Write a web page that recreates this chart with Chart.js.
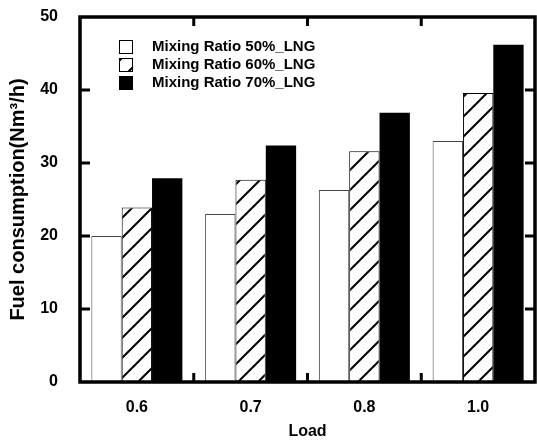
<!DOCTYPE html>
<html><head><meta charset="utf-8">
<script src="https://cdn.jsdelivr.net/npm/chart.js@4"></script>
<style>html,body{margin:0;padding:0;background:#fff;overflow:hidden}#wrap{width:537px;height:441px}canvas{display:block}</style>
</head><body><div id="wrap"><canvas id="c" width="537" height="441"></canvas></div>
<script>
const categories = ['0.6', '0.7', '0.8', '1.0'];
const ratio50 = [20.0, 23.0, 26.3, 33.0];
const ratio60 = [23.9, 27.7, 31.6, 39.6];
const ratio70 = [27.9, 32.4, 36.9, 46.2];
const seriesLabels = ['Mixing Ratio 50%_LNG', 'Mixing Ratio 60%_LNG', 'Mixing Ratio 70%_LNG'];
const yMin = 0, yMax = 50, yStep = 10;

const FONT = "'Liberation Sans', Arial, sans-serif";

function makeHatch() {
  const p = document.createElement('canvas');
  p.width = 20; p.height = 20;
  const g = p.getContext('2d');
  g.fillStyle = '#fff'; g.fillRect(0, 0, 20, 20);
  g.strokeStyle = '#000'; g.lineWidth = 2;
  g.beginPath();
  g.moveTo(-5, 25); g.lineTo(25, -5);
  g.moveTo(-5, 5); g.lineTo(5, -5);
  g.moveTo(15, 25); g.lineTo(25, 15);
  g.stroke();
  return document.getElementById('c').getContext('2d').createPattern(p, 'repeat');
}
const hatch = makeHatch();

function noPad(s) { s.paddingLeft = 0; s.paddingRight = 0; s.paddingTop = 0; s.paddingBottom = 0; }

const framePlugin = {
  id: 'frame',
  afterDatasetsDraw(chart) {
    const {ctx, chartArea: a, scales: {x, y}} = chart;
    ctx.save();
    ctx.strokeStyle = '#000';
    ctx.lineWidth = 3.5;
    ctx.strokeRect(a.left, a.top, a.right - a.left, a.bottom - a.top);
    ctx.lineWidth = 3;
    for (let v = yMin + yStep; v < yMax; v += yStep) {
      const py = y.getPixelForValue(v);
      ctx.beginPath();
      ctx.moveTo(a.left, py); ctx.lineTo(a.left + 10, py);
      ctx.moveTo(a.right, py); ctx.lineTo(a.right - 10, py);
      ctx.stroke();
    }
    for (let i = 0; i < categories.length - 1; i++) {
      const px = (x.getPixelForValue(i) + x.getPixelForValue(i + 1)) / 2;
      ctx.beginPath();
      ctx.moveTo(px, a.bottom); ctx.lineTo(px, a.bottom - 9);
      ctx.moveTo(px, a.top); ctx.lineTo(px, a.top + 9);
      ctx.stroke();
    }
    ctx.restore();
  },
  afterDraw(chart) {
    const {ctx} = chart;
    const ds = chart.data.datasets;
    const rows = [47, 65, 83];
    ctx.save();
    ctx.font = "bold 15px " + FONT;
    ctx.textBaseline = 'middle';
    ds.forEach((d, i) => {
      const cy = rows[i];
      ctx.fillStyle = d.backgroundColor;
      ctx.fillRect(119, cy - 7, 14, 14);
      ctx.strokeStyle = '#000';
      ctx.lineWidth = 1;
      ctx.strokeRect(119.5, cy - 6.5, 13, 13);
      ctx.fillStyle = '#000';
      ctx.fillText(d.label, 152, cy);
    });
    ctx.restore();
  }
};

new Chart(document.getElementById('c'), {
  type: 'bar',
  data: {
    labels: categories,
    datasets: [
      {label: seriesLabels[0], data: ratio50, backgroundColor: '#ffffff', borderColor: '#444', borderWidth: 1},
      {label: seriesLabels[1], data: ratio60, backgroundColor: hatch, borderColor: '#000', borderWidth: 1},
      {label: seriesLabels[2], data: ratio70, backgroundColor: '#000000', borderColor: '#000', borderWidth: 0}
    ]
  },
  options: {
    responsive: false,
    animation: false,
    devicePixelRatio: 1,
    layout: {padding: {top: 17, right: 2, left: 0, bottom: 0}},
    plugins: {legend: {display: false}, tooltip: {enabled: false}},
    datasets: {bar: {categoryPercentage: 0.8, barPercentage: 1.0}},
    scales: {
      x: {
        grid: {display: false, drawTicks: false},
        border: {display: false},
        ticks: {color: '#000', font: {family: FONT, size: 16, weight: 'bold'}, padding: 16},
        title: {display: true, text: 'Load', color: '#000', font: {family: FONT, size: 16, weight: 'bold'}, padding: {top: 0, bottom: 0}},
        afterFit(s) { s.height = 59; noPad(s); }
      },
      y: {
        min: yMin, max: yMax,
        grid: {display: false, drawTicks: false},
        border: {display: false},
        ticks: {stepSize: yStep, color: '#000', font: {family: FONT, size: 16, weight: 'bold'}, padding: 22},
        title: {display: true, text: 'Fuel consumption(Nm³/h)', color: '#000', font: {family: FONT, size: 20, weight: 'bold'}, padding: {top: 6, bottom: 0}},
        afterFit(s) { s.width = 80; noPad(s); }
      }
    }
  },
  plugins: [framePlugin]
});
</script>
</body></html>
